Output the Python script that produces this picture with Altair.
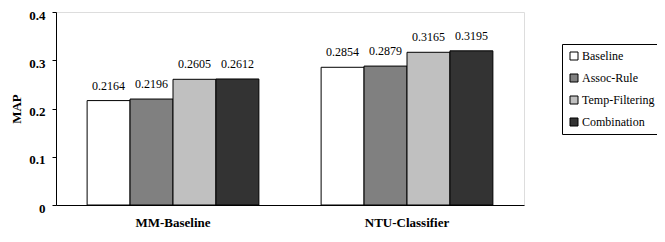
import altair as alt
import pandas as pd

groups = ["MM-Baseline", "NTU-Classifier"]
methods = ["Baseline", "Assoc-Rule", "Temp-Filtering", "Combination"]
mm_values = [0.2164, 0.2196, 0.2605, 0.2612]
ntu_values = [0.2854, 0.2879, 0.3165, 0.3195]
colors = ["#ffffff", "#808080", "#c0c0c0", "#333333"]

rows = []
for g, vals in zip(groups, [mm_values, ntu_values]):
    for m, v in zip(methods, vals):
        rows.append({"group": g, "method": m, "value": v, "label": f"{v:.4f}"})
df = pd.DataFrame(rows)

FONT = "Liberation Serif"

x_enc = alt.X("group:N", sort=groups, title=None,
              scale=alt.Scale(paddingInner=0.266, paddingOuter=0.133),
              axis=alt.Axis(labelAngle=0, labelFont=FONT, labelFontSize=13,
                            labelFontWeight="bold", labelColor="black",
                            labelPadding=11, ticks=False, domainColor="black"))
xoff = alt.XOffset("method:N", sort=methods, scale=alt.Scale(paddingInner=0, paddingOuter=0))
y_enc = alt.Y("value:Q", title="MAP",
              scale=alt.Scale(domain=[0, 0.4], nice=False),
              axis=alt.Axis(values=[0, 0.1, 0.2, 0.3, 0.4], format="~g", grid=False,
                            labelFont=FONT, labelFontSize=13, labelFontWeight="bold",
                            labelColor="black", labelPadding=7, tickSize=4, labelOffset=3,
                            tickColor="black", domainColor="black",
                            titleFont=FONT, titleFontSize=13, titleFontWeight="bold",
                            titleColor="black", titlePadding=5))

bars = alt.Chart(df).mark_bar(stroke="black", strokeWidth=1).encode(
    x=x_enc, xOffset=xoff, y=y_enc,
    color=alt.Color("method:N", sort=methods,
                    scale=alt.Scale(domain=methods, range=colors),
                    legend=alt.Legend(title=None, orient="none", legendX=506, legendY=32,
                                      strokeColor="black", fillColor="white", padding=6,
                                      symbolType="square", symbolSize=64,
                                      symbolStrokeColor="black", symbolStrokeWidth=1,
                                      labelFont=FONT, labelFontSize=12, labelColor="black",
                                      labelOffset=2, rowPadding=10)),
)

text = alt.Chart(df).mark_text(font=FONT, fontSize=12, baseline="bottom", dy=-8,
                               color="black").encode(
    x=alt.X("group:N", sort=groups), xOffset=alt.XOffset("method:N", sort=methods),
    y="value:Q", text="label:N",
)

chart = (bars + text).properties(
    width=468, height=193,
    autosize=alt.AutoSizeParams(type="none"),
    padding={"left": 48, "top": 4, "right": 133, "bottom": 29},
).configure_view(stroke=None).configure_legend(
    labelFont=FONT, labelFontSize=12, labelColor="black", labelLimit=200
).configure(font=FONT)

chart.save("out.html", embed_options={"renderer": "svg", "actions": False})
